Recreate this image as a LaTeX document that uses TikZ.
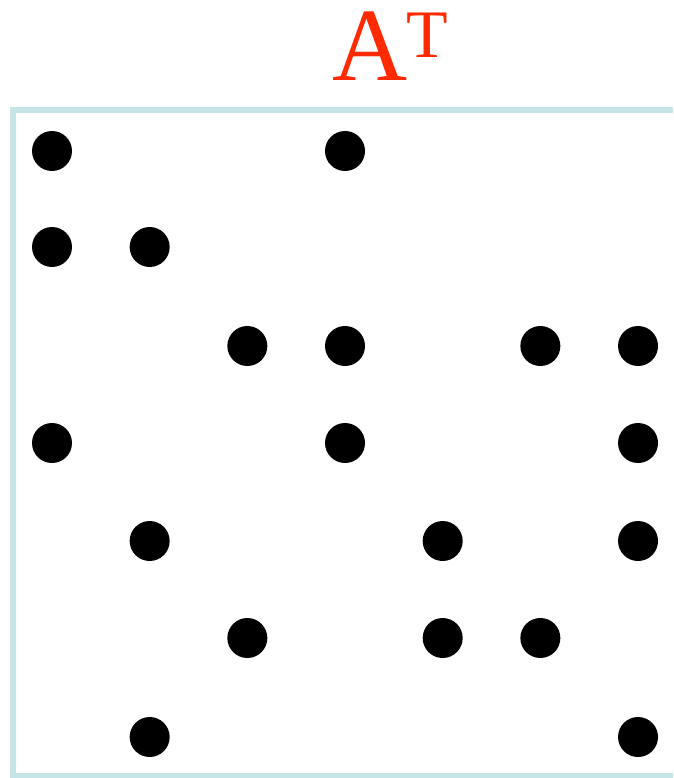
\documentclass[tikz,border=0pt]{standalone}
\usepackage{fontspec}
\setmainfont{Liberation Serif}
\definecolor{boxcol}{HTML}{C5E5E8}
\definecolor{titlered}{HTML}{FF2A00}
\begin{document}
\begin{tikzpicture}[x=1pt,y=-1pt,
  dot/.style={circle,fill=black,inner sep=0pt,minimum size=40pt},
  frame/.style={draw=boxcol,line width=6pt,outer sep=0pt},
  title/.style={text=titlered,inner sep=0pt,outer sep=0pt,anchor=base west}]
\useasboundingbox (0,0) rectangle (673,778);
\clip (0,0) rectangle (673,778);
\fill[white] (0,0) rectangle (673,778);
\node[frame,rectangle,minimum width=700pt,minimum height=666pt,anchor=north west,inner sep=0pt] (box) at (12.7,110) {};
\node[title,font=\fontsize{104}{104}\selectfont] (A) at (332,81) {A};
\node[title,font=\fontsize{68}{68}\selectfont] (T) at (406,58) {T};
\foreach \r/\y/\cols in {1/151/{1,4},2/247/{1,2},3/346/{3,4,6,7},4/443/{1,4,7},5/541/{2,5,7},6/638/{3,5,6},7/737/{2,7}}{
  \foreach \c in \cols {
    \pgfmathsetmacro{\xx}{52+(\c-1)*97.67}
    \node[dot] (d\r\c) at (\xx,\y) {};
  }
}
\end{tikzpicture}
\end{document}
